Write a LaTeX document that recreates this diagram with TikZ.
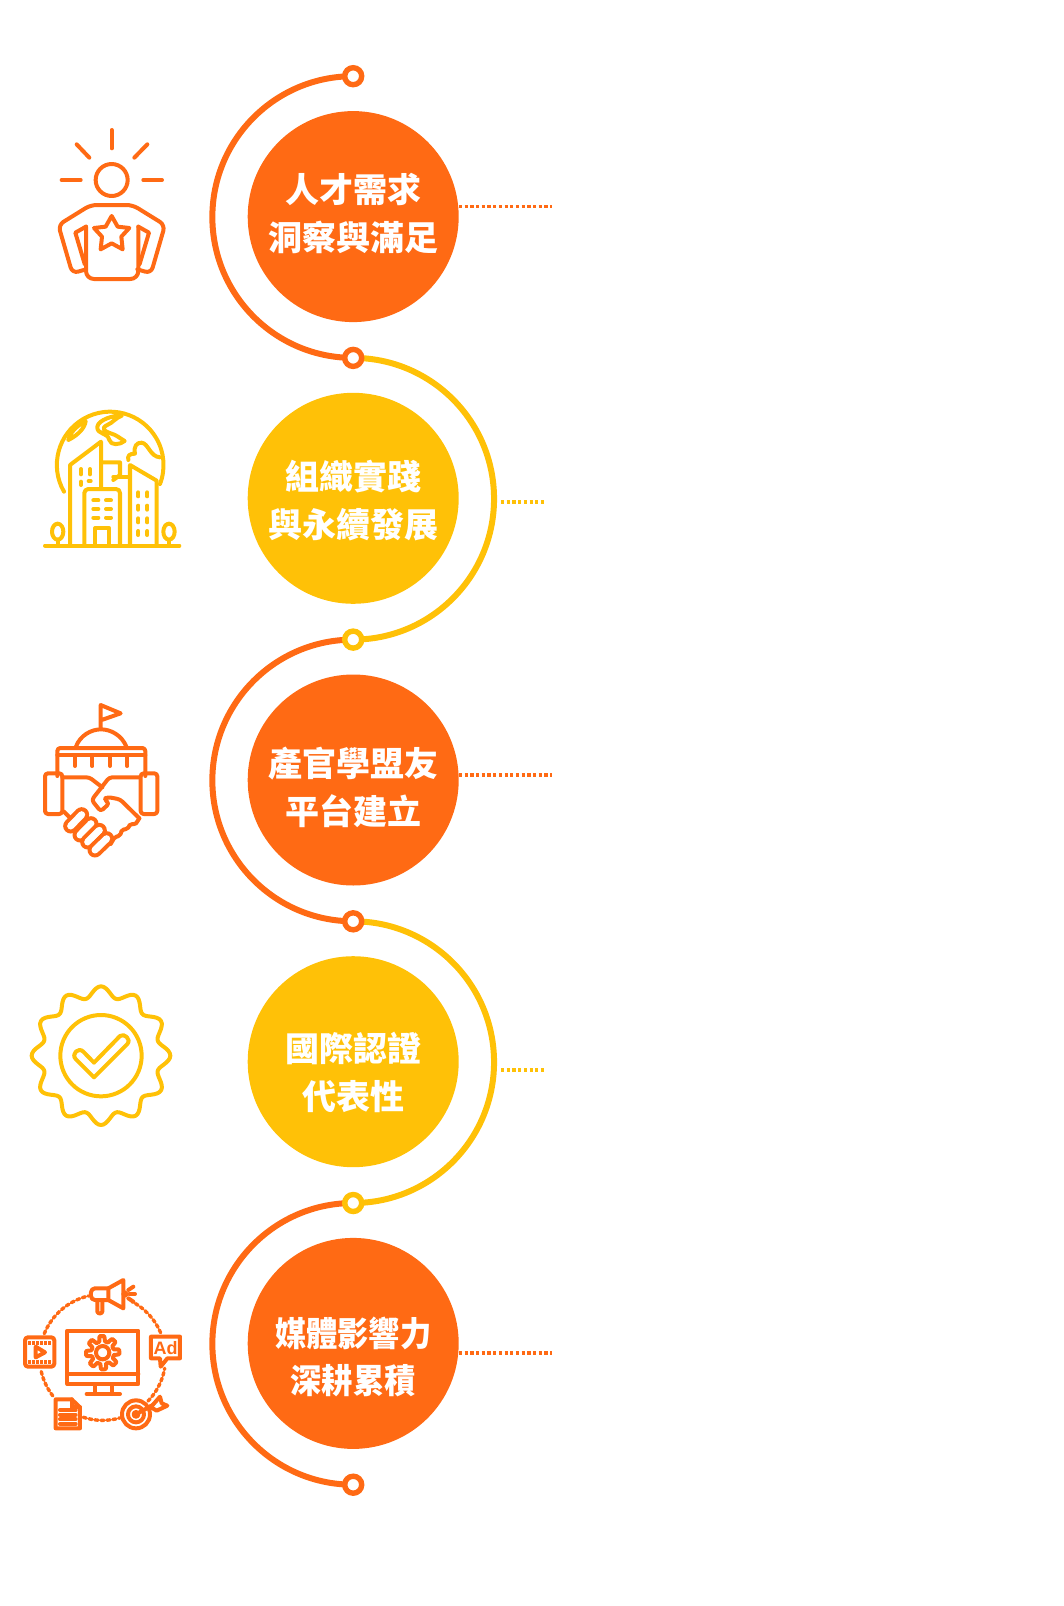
\documentclass[tikz,border=0pt]{standalone}
\usepackage{fontspec}
\setmainfont{Liberation Sans}
\newfontfamily\cjkfont{Noto Sans CJK TC}
\usetikzlibrary{positioning, backgrounds}
\definecolor{hot}{HTML}{FF6A14}
\definecolor{sun}{HTML}{FFC107}
\tikzset{
    bubble/.style={circle, fill=#1, minimum size=211pt, inner sep=0pt},
    bubbletext/.style={text=white, align=center, inner sep=0pt, font=\cjkfont\bfseries\fontsize{34}{48}\selectfont},
    ring/.style={circle, draw=#1, fill=white, line width=5.4pt, minimum size=17pt, inner sep=0pt},
    wave/.style={draw=#1, line width=6pt},
    dots/.style={draw=#1, line width=3.2pt, dash pattern=on 3.2pt off 2.5pt},
    icon/.style={draw=#1, line width=4pt, line cap=round, line join=round, scale=1/3},
    icondots/.style={draw=hot, line width=3.4pt, dash pattern=on 3.2pt off 2.8pt},
    finger/.style={draw=hot, line width=4pt, double=white, double distance=7pt, line cap=round},
}
\begin{document}
\begin{tikzpicture}[x=1pt, y=-1pt, node distance=281.7pt, on grid]
    \useasboundingbox (0,0) rectangle (1064,1606);

    \node[ring=hot] (ring1) at (353.2,76.2) {};
    \node[ring=hot, below=of ring1] (ring2) {};
    \node[ring=sun, below=of ring2] (ring3) {};
    \node[ring=hot, below=of ring3] (ring4) {};
    \node[ring=sun, below=of ring4] (ring5) {};
    \node[ring=hot, below=of ring5] (ring6) {};

    \node[bubble=hot, below=140.4pt of ring1] (talent) {};
    \node[bubble=sun, below=140.4pt of ring2] (practice) {};
    \node[bubble=hot, below=140.4pt of ring3] (platform) {};
    \node[bubble=sun, below=140.4pt of ring4] (global) {};
    \node[bubble=hot, below=140.4pt of ring5] (media) {};

    \node[bubbletext] (talent text) at (353.2,213) {人才需求\\洞察與滿足};
    \node[bubbletext] (practice text) at (353.2,501) {組織實踐\\與永續發展};
    \node[bubbletext] (platform text) at (353.2,787) {產官學盟友\\平台建立};
    \node[bubbletext] (global text) at (353.2,1072.7) {國際認證\\代表性};
    \node[bubbletext, font=\cjkfont\bfseries\fontsize{34}{47}\selectfont, xscale=.92, transform shape] (media text) at (353.2,1356.5) {媒體影響力\\深耕累積};

    \begin{scope}[on background layer]
        \draw[wave=hot] (ring1.center) arc[start angle=270, end angle=90, radius=140.85];
        \draw[wave=sun] (ring2.center) arc[start angle=270, end angle=450, radius=140.85];
        \draw[wave=hot] (ring3.center) arc[start angle=270, end angle=90, radius=140.85];
        \draw[wave=sun] (ring4.center) arc[start angle=270, end angle=450, radius=140.85];
        \draw[wave=hot] (ring5.center) arc[start angle=270, end angle=90, radius=140.85];
    \end{scope}

    \coordinate (talent end) at (551.5,206.7);
    \coordinate (practice start) at (501,502);
    \coordinate (practice end) at (546,502);
    \coordinate (platform end) at (551.5,775);
    \coordinate (global start) at (501,1070);
    \coordinate (global end) at (546,1070);
    \coordinate (media end) at (551.5,1353);
    \draw[dots=hot] (talent.east |- talent end) -- (talent end);
    \draw[dots=sun] (practice start) -- (practice end);
    \draw[dots=hot] (platform.east |- platform end) -- (platform end);
    \draw[dots=sun] (global start) -- (global end);
    \draw[dots=hot] (media.east |- media end) -- (media end);

    \begin{scope}[shift={(20,110)}, icon=hot]
        \draw[hot] (275,210) circle[radius=48];
        \draw[hot] (275,60) -- (275,115);
        \draw[hot] (170,103) -- (208,143);
        \draw[hot] (382,103) -- (343,143);
        \draw[hot] (125,210) -- (182,210);
        \draw[hot] (370,210) -- (426,210);
        \draw[hot, rounded corners=6pt] (275,285) -- (338,285) -- (435,345) -- (393,490) -- (352,478);
        \draw[hot, rounded corners=6pt] (275,285) -- (212,285) -- (115,345) -- (157,490) -- (198,478);
        \draw[hot, rounded corners=8pt] (198,350) -- (198,507) -- (355,507) -- (355,350);
        \draw[hot] (198,350) -- (166,368) -- (194,462);
        \draw[hot] (355,350) -- (387,368) -- (359,462);
        \draw[hot] (275,318) -- (293,350) -- (328,354) -- (304,380) -- (308,418) -- (275,400) -- (242,418) -- (246,380) -- (222,354) -- (257,350) -- cycle;
    \end{scope}

    \begin{scope}[shift={(20,385)}, icon=sun]
        \draw[sun] (132,320) arc[start angle=150, end angle=381, radius=160];
        \draw[sun] (145,165) .. controls (150,140) and (175,120) .. (197,108) .. controls (195,128) and (175,150) .. cycle;
        \draw[sun] (305,92) .. controls (280,90) and (235,105) .. (232,125) .. controls (230,150) and (262,140) .. (268,165) .. controls (272,182) and (300,180) .. (314,168) .. controls (300,160) and (290,150) .. (272,145) .. controls (255,140) and (240,130) .. (262,120) .. controls (280,112) and (285,100) .. (305,92);
        \draw[sun] (325,225) .. controls (322,212) and (328,206) .. (345,206) .. controls (340,185) and (350,172) .. (365,173) .. controls (385,175) and (390,215) .. (420,217);
        \draw[sun] (150,480) -- (150,240) -- (243,170) -- (243,310);
        \draw[sun] (243,232) -- (300,232) -- (300,270) -- (280,285);
        \draw[sun] (280,275) -- (330,275);
        \draw[sun] (330,480) -- (330,240) -- (410,287) -- (410,480);
        \draw[sun, rounded corners=4pt] (193,480) -- (193,312) -- (300,312) -- (300,480);
        \draw[sun] (225,480) -- (225,430) -- (268,430) -- (268,480);
        \draw[sun] (75,482) -- (478,482);
        \draw[sun] (113,440) ellipse[x radius=17, y radius=24];
        \draw[sun] (113,464) -- (113,482);
        \draw[sun] (447,440) ellipse[x radius=17, y radius=24];
        \draw[sun] (447,464) -- (447,482);
        \foreach \rowy in {346,372,398} {
            \draw[sun] (220,\rowy) -- (235,\rowy);
            \draw[sun] (258,\rowy) -- (273,\rowy);
        }
        \foreach \rowy in {322,362,400,438} {
            \draw[sun] (355,\rowy) -- (355,\rowy+12);
            \draw[sun] (382,\rowy) -- (382,\rowy+12);
        }
        \draw[sun] (183,252) -- (183,268);
        \draw[sun] (210,252) -- (210,268);
        \draw[sun] (183,290) -- (183,300);
        \draw[sun] (206,288) -- (212,288);
    \end{scope}

    \begin{scope}[shift={(20,670)}, icon=hot]
        \draw[hot] (242,175) -- (242,105) -- (302,130) -- (245,150);
        \draw[hot] (167,232) .. controls (180,195) and (215,178) .. (243,178) .. controls (271,178) and (306,195) .. (320,232);
        \draw[hot, rounded corners=3pt] (112,318) -- (112,234) -- (376,234) -- (376,318);
        \draw[hot] (112,256) -- (376,256);
        \foreach \tickx in {165,217,270,322} {
            \draw[hot] (\tickx,256) -- (\tickx,288);
        }
        \draw[hot, rounded corners=3pt] (75,310) rectangle (127,432);
        \draw[hot, rounded corners=3pt] (362,310) rectangle (412,432);
        \draw[hot, rounded corners=3pt] (127,322) -- (208,322) -- (247,352);
        \draw[hot, rounded corners=3pt] (360,322) -- (268,322) -- (215,390) -- (242,424) -- (268,400) -- (252,388) -- (262,381) -- (300,388) -- (358,445);
        \draw[hot] (132,425) -- (155,448);
        \draw[finger] (152,468) -- (185,434);
        \draw[finger] (180,495) -- (213,461);
        \draw[finger] (203,516) -- (238,481);
        \draw[finger] (225,540) -- (260,506);
        \draw[hot, rounded corners=2pt] (358,445) -- (345,465) -- (332,460) -- (322,478) -- (306,478) -- (300,498) -- (285,500) -- (272,522);
    \end{scope}

    \begin{scope}[shift={(20,950)}, icon=sun]
        \draw[sun] plot[domain=0:360, samples=181, smooth] ({243+(192+16*cos(12*\x))*sin(\x)}, {317-(192+16*cos(12*\x))*cos(\x)}) -- cycle;
        \draw[sun] (243,317) circle[radius=122];
        \draw[sun] (222,338) -- (300,258) .. controls (312,248) and (335,268) .. (322,282) -- (222,382) -- (167,327) .. controls (153,312) and (175,290) .. (190,305) -- cycle;
    \end{scope}

    \begin{scope}[shift={(10,1240)}, icon=hot]
        \draw[hot] (172,272) rectangle (385,432);
        \draw[hot] (172,402) -- (385,402);
        \draw[hot] (255,432) -- (255,462);
        \draw[hot] (305,432) -- (305,462);
        \draw[hot] (230,462) -- (330,462);
        \draw[hot] plot[domain=0:360, samples=145] ({278+(42+8*max(-1,min(1,2.5*cos(8*\x+22.5))))*cos(\x)}, {338+(42+8*max(-1,min(1,2.5*cos(8*\x+22.5))))*sin(\x)}) -- cycle;
        \draw[hot] (278,338) circle[radius=20];
        \draw[hot, rounded corners=4pt] (295,145) -- (243,145) -- (243,180) -- (295,180);
        \draw[hot] (295,145) -- (340,120) -- (340,205) -- (295,180) -- cycle;
        \draw[hot, rounded corners=2pt] (262,180) -- (262,220) -- (277,220) -- (277,180);
        \draw[hot] (345,162) circle[radius=5];
        \draw[hot] (355,150) -- (370,140);
        \draw[hot] (358,162) -- (375,162);
        \draw[hot] (355,175) -- (370,185);
        \draw[hot, rounded corners=3pt] (45,292) rectangle (133,380);
        \draw[hot, line cap=butt, dash pattern=on 2.5pt off 1.5pt] (55,308) -- (125,308);
        \draw[hot, line cap=butt, dash pattern=on 2.5pt off 1.5pt] (55,365) -- (125,365);
        \draw[hot] (77,320) -- (105,337) -- (77,352) -- cycle;
        \draw[hot] (423,290) -- (510,290) -- (510,355) -- (472,355) -- (452,380) -- (450,355) -- (423,355) -- cycle;
        \node[text=hot, font=\bfseries\fontsize{18}{18}\selectfont, inner sep=0pt] (ad) at (467,325) {Ad};
        \draw[hot] (137,478) -- (185,478) -- (210,502) -- (210,565) -- (137,565) -- cycle;
        \draw[hot] (185,478) -- (185,502) -- (210,502);
        \foreach \rowy in {510,524,538,552} {
            \draw[hot] (150,\rowy) -- (197,\rowy);
        }
        \draw[hot] (378,523) circle[radius=42];
        \draw[hot] (378,523) circle[radius=24];
        \draw[hot] (378,523) circle[radius=7];
        \draw[hot] (378,523) -- (428,495);
        \draw[hot] (428,495) -- (450,470) -- (455,490) -- (472,497) -- (440,512) -- (420,500);
        \draw[icondots] (278,352) ++(202:189) arc[start angle=202, end angle=257, radius=189];
        \draw[icondots] (278,352) ++(167:189) arc[start angle=167, end angle=140, radius=189];
        \draw[icondots] (278,352) ++(108:189) arc[start angle=108, end angle=74, radius=189];
        \draw[icondots] (278,352) ++(44:189) arc[start angle=44, end angle=10, radius=189];
        \draw[icondots] (278,352) ++(-23:189) arc[start angle=-23, end angle=-62, radius=189];
    \end{scope}
\end{tikzpicture}
\end{document}
